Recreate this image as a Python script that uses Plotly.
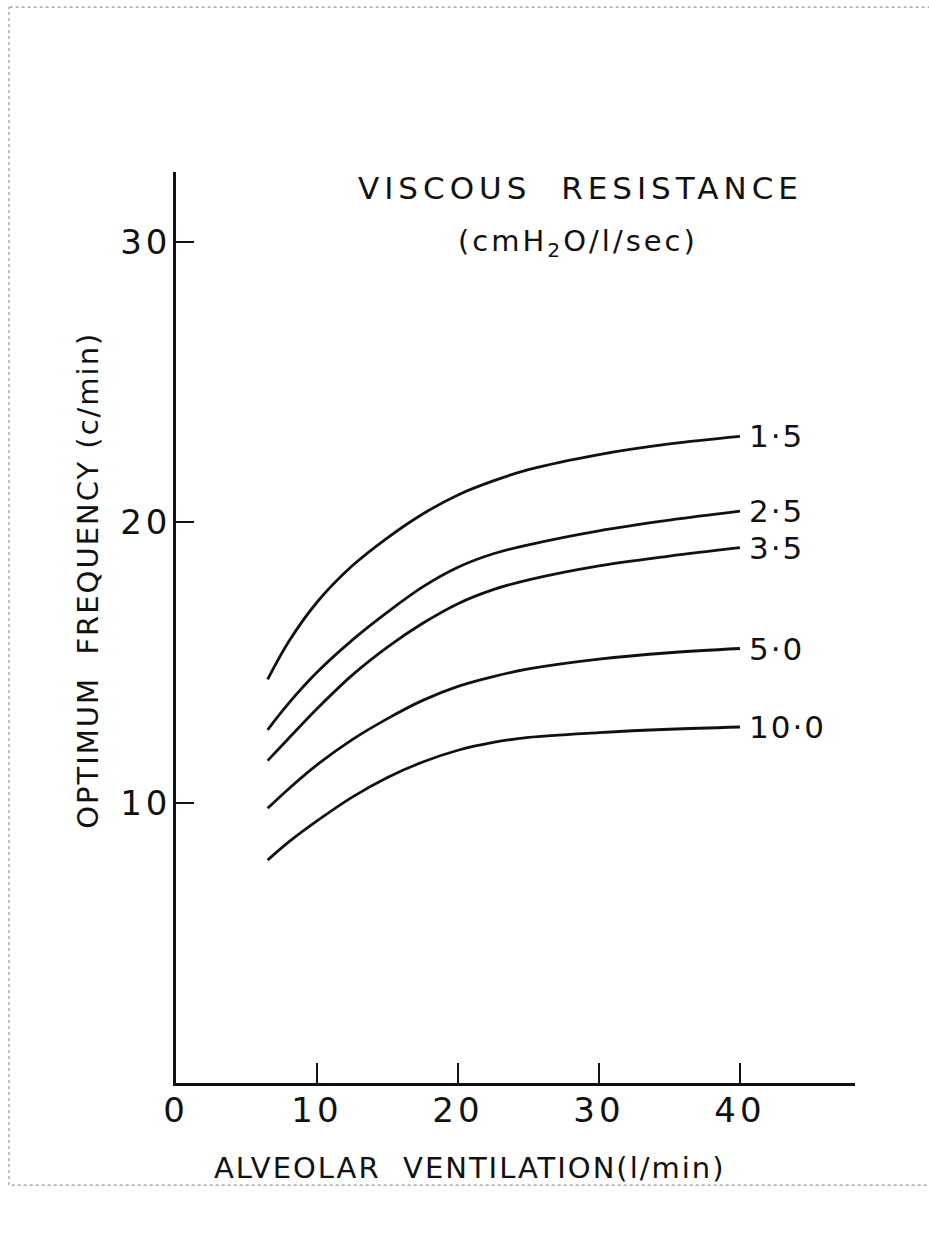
import plotly.graph_objects as go

# Alveolar ventilation (l/min) at which each curve is sampled
ventilation = [6.5, 8, 10, 12.5, 15, 17.5, 20, 22.5, 25, 30, 35, 40]

# Optimum frequency (c/min) for each viscous resistance (cmH2O/l/sec)
freq_r1_5 = [14.4, 15.75, 17.15, 18.45, 19.45, 20.3, 20.98, 21.48, 21.88, 22.42, 22.8, 23.07]
freq_r2_5 = [12.6, 13.55, 14.65, 15.8, 16.8, 17.7, 18.4, 18.88, 19.2, 19.7, 20.08, 20.4]
freq_r3_5 = [11.5, 12.3, 13.35, 14.55, 15.55, 16.4, 17.1, 17.6, 17.95, 18.45, 18.8, 19.1]
freq_r5_0 = [9.8, 10.5, 11.35, 12.25, 13.0, 13.65, 14.15, 14.5, 14.77, 15.12, 15.35, 15.5]
freq_r10_0 = [7.95, 8.6, 9.35, 10.2, 10.9, 11.45, 11.87, 12.15, 12.33, 12.5, 12.62, 12.7]

resistance_labels = ["1·5", "2·5", "3·5", "5·0", "10·0"]
series = [freq_r1_5, freq_r2_5, freq_r3_5, freq_r5_0, freq_r10_0]

x_ticks = [0, 10, 20, 30, 40]
y_ticks = [10, 20, 30]

FONT = "DejaVu Sans"
INK = "#111111"


def spaced(text, px):
    """Wrap text in a span with extra letter spacing."""
    return f'<span style="letter-spacing:{px}px">{text}</span>'


fig = go.Figure()
for label, ys in zip(resistance_labels, series):
    fig.add_trace(go.Scatter(
        x=ventilation, y=ys, mode="lines", name=label,
        line=dict(color=INK, width=2.8, shape="spline", smoothing=1.0),
        hoverinfo="skip", showlegend=False,
    ))
    fig.add_annotation(
        x=ventilation[-1], y=ys[-1], text=spaced(label, 2), showarrow=False,
        xanchor="left", yanchor="middle", xshift=7,
        font=dict(family=FONT, size=31, color=INK),
    )

# headings above the curves
fig.add_annotation(xref="paper", yref="paper", x=0.595, y=0.982,
                   xanchor="center", yanchor="middle",
                   text=spaced("VISCOUS  RESISTANCE", 5), showarrow=False,
                   font=dict(family=FONT, size=31, color=INK))
fig.add_annotation(xref="paper", yref="paper", x=0.592, y=0.922,
                   xanchor="center", yanchor="middle",
                   text=spaced("(cmH<sub>2</sub>O/l/sec)", 3), showarrow=False,
                   font=dict(family=FONT, size=29, color=INK))

# axis titles
fig.add_annotation(xref="paper", yref="paper", x=0.433, y=-0.093,
                   xanchor="center", yanchor="middle",
                   text=spaced("ALVEOLAR  VENTILATION(l/min)", 2), showarrow=False,
                   font=dict(family=FONT, size=29, color=INK))
fig.add_annotation(xref="paper", yref="paper", x=-0.13, y=0.552,
                   xanchor="center", yanchor="middle",
                   text=spaced("OPTIMUM  FREQUENCY (c/min)", 2), showarrow=False,
                   textangle=-90,
                   font=dict(family=FONT, size=29, color=INK))

# faint paper-edge marks
edge = dict(color="rgba(50,50,50,0.5)", width=1.2, dash="dot")
fig.add_shape(type="line", xref="paper", yref="paper",
              x0=-0.242, x1=1.109, y0=-0.112, y1=-0.112, line=edge)
fig.add_shape(type="line", xref="paper", yref="paper",
              x0=-0.245, x1=1.109, y0=1.181, y1=1.181, line=edge)
fig.add_shape(type="line", xref="paper", yref="paper",
              x0=-0.246, x1=-0.246, y0=-0.112, y1=1.181, line=edge)

fig.update_layout(
    width=929, height=1236,
    margin=dict(l=176, r=74, t=172, b=153),
    paper_bgcolor="white", plot_bgcolor="white",
    font=dict(family=FONT, color=INK),
    xaxis=dict(
        range=[0, 48.16], tickvals=x_ticks,
        ticktext=[spaced(str(v), 4) for v in x_ticks],
        showgrid=False, zeroline=False, showline=True, linecolor=INK, linewidth=2.5,
        ticks="inside", ticklen=20, tickwidth=2, tickcolor=INK,
        ticklabelstandoff=-5,
        tickfont=dict(family=FONT, size=34, color=INK),
    ),
    yaxis=dict(
        range=[0, 32.5], tickvals=y_ticks,
        ticktext=[spaced(str(v), 4) for v in y_ticks],
        showgrid=False, zeroline=False, showline=True, linecolor=INK, linewidth=2.5,
        ticks="inside", ticklen=18, tickwidth=2, tickcolor=INK,
        ticklabelstandoff=-5,
        tickfont=dict(family=FONT, size=34, color=INK),
    ),
)

fig.write_html("out.html")
